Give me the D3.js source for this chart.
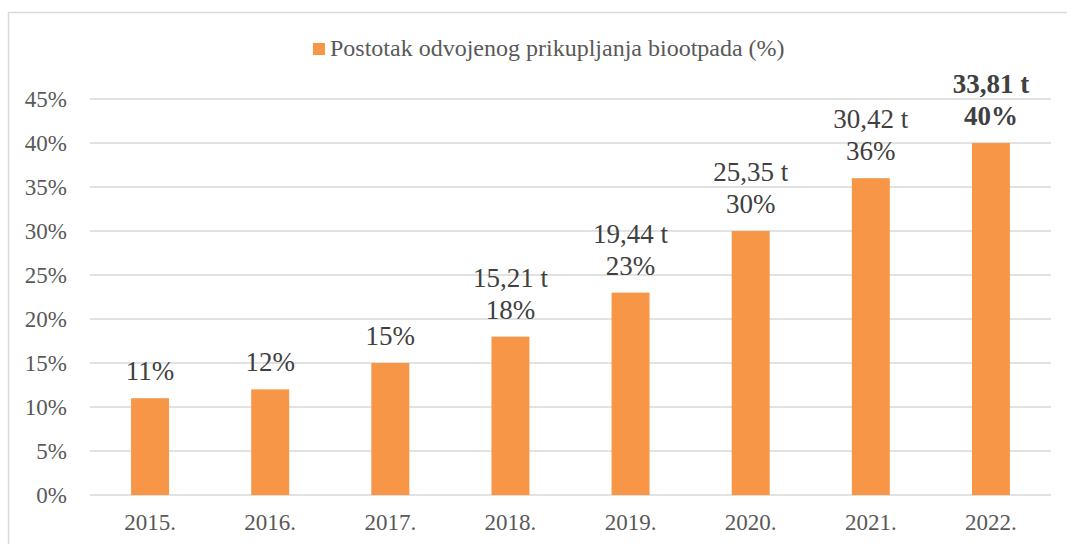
<!DOCTYPE html>
<html>
<head>
<meta charset="utf-8">
<script src="https://cdn.jsdelivr.net/npm/d3@7"></script>
<style>
  body { margin: 0; background: #fff; }
</style>
</head>
<body>
<svg id="chart"></svg>
<script>
var years = ["2015.", "2016.", "2017.", "2018.", "2019.", "2020.", "2021.", "2022."];
var percent = [11, 12, 15, 18, 23, 30, 36, 40];
var tonnes = ["", "", "", "15,21 t", "19,44 t", "25,35 t", "30,42 t", "33,81 t"];
var yTicks = [0, 5, 10, 15, 20, 25, 30, 35, 40, 45];
var legendLabel = "Postotak odvojenog prikupljanja biootpada (%)";

var font = "Liberation Serif";
var width = 1067, height = 544;
var margin = {top: 99, right: 16, bottom: 49, left: 90};

var svg = d3.select("#chart")
  .attr("width", width)
  .attr("height", height)
  .attr("font-family", font);

// outer frame
svg.append("rect")
  .attr("x", 8.5).attr("y", 12.5)
  .attr("width", 1080).attr("height", 560)
  .attr("fill", "none")
  .attr("stroke", "#d9d9d9")
  .attr("stroke-width", 1.5);

var x = d3.scaleBand()
  .domain(years)
  .range([margin.left, width - margin.right])
  .paddingInner(0.684)
  .paddingOuter(0.342);

var y = d3.scaleLinear()
  .domain([0, 45])
  .range([height - margin.bottom, margin.top]);

// gridlines
svg.append("g")
  .selectAll("line")
  .data(yTicks)
  .join("line")
  .attr("x1", margin.left)
  .attr("x2", width - margin.right)
  .attr("y1", d => y(d))
  .attr("y2", d => y(d))
  .attr("stroke", "#d9d9d9")
  .attr("stroke-width", 1.5);

// y axis labels
var yAxis = svg.append("g")
  .attr("transform", "translate(" + (margin.left - 23) + ",0)")
  .call(d3.axisLeft(y).tickValues(yTicks).tickSize(0).tickPadding(0).tickFormat(d => d + "%"))
  .attr("font-family", font)
  .attr("font-size", 23);
yAxis.select(".domain").remove();
yAxis.selectAll("text")
  .attr("fill", "#595959")
  .attr("dy", "0.34em");

// x axis labels
var xAxis = svg.append("g")
  .attr("transform", "translate(0," + y(0) + ")")
  .call(d3.axisBottom(x).tickSize(0).tickPadding(0))
  .attr("font-family", font)
  .attr("font-size", 23);
xAxis.select(".domain").remove();
xAxis.selectAll("text")
  .attr("fill", "#595959")
  .attr("y", 35)
  .attr("dy", 0);

// bars
svg.append("g")
  .selectAll("rect")
  .data(percent)
  .join("rect")
  .attr("x", (d, i) => x(years[i]))
  .attr("y", d => y(d))
  .attr("width", x.bandwidth())
  .attr("height", d => y(0) - y(d))
  .attr("fill", "#f79646");

// data labels
var labels = svg.append("g")
  .selectAll("text")
  .data(percent)
  .join("text")
  .attr("x", (d, i) => x(years[i]) + x.bandwidth() / 2)
  .attr("y", d => y(d) - 18)
  .attr("text-anchor", "middle")
  .attr("fill", "#404040")
  .attr("font-size", 27)
  .attr("font-weight", (d, i) => i === percent.length - 1 ? "bold" : "normal");

labels.each(function(d, i) {
  var t = d3.select(this);
  if (tonnes[i]) {
    t.append("tspan")
      .attr("x", x(years[i]) + x.bandwidth() / 2)
      .attr("dy", -32)
      .text(tonnes[i]);
    t.append("tspan")
      .attr("x", x(years[i]) + x.bandwidth() / 2)
      .attr("dy", 32)
      .text(d + "%");
  } else {
    t.text(d + "%");
  }
});

// legend
var legend = svg.append("g").attr("transform", "translate(313,43)");
legend.append("rect")
  .attr("width", 12).attr("height", 12)
  .attr("fill", "#f79646");
legend.append("text")
  .attr("x", 17).attr("y", 13)
  .attr("fill", "#595959")
  .attr("font-size", 24)
  .text(legendLabel);
</script>
</body>
</html>
